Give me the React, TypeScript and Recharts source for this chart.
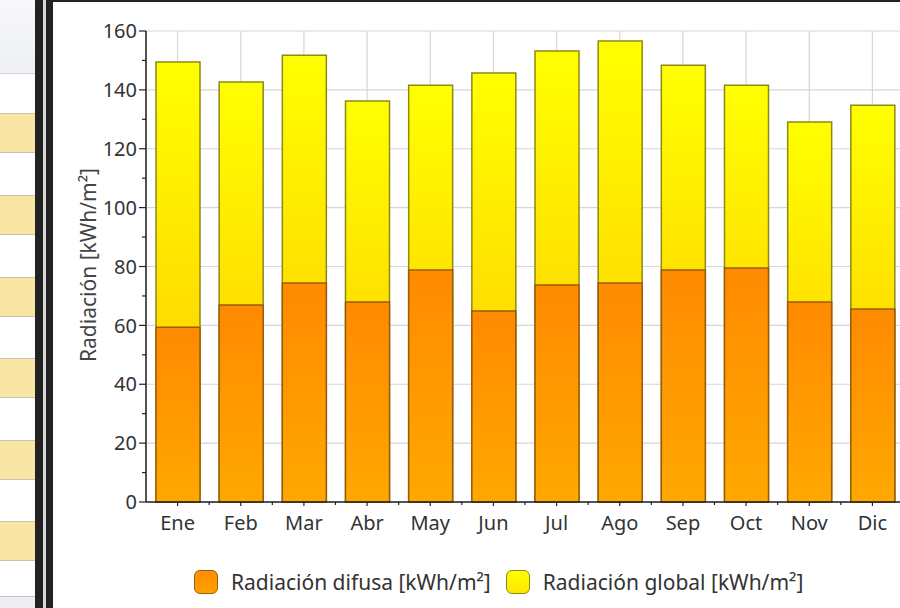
import React from 'react';
import { BarChart, Bar, XAxis, YAxis, CartesianGrid } from 'recharts';

const months = ['Ene', 'Feb', 'Mar', 'Abr', 'May', 'Jun', 'Jul', 'Ago', 'Sep', 'Oct', 'Nov', 'Dic'];
const radGlobal = [149.5, 142.7, 151.8, 136.2, 141.6, 145.7, 153.2, 156.6, 148.4, 141.6, 129.1, 134.8];
const radDifusa = [59.4, 66.9, 74.4, 67.9, 78.8, 64.9, 73.7, 74.4, 78.8, 79.5, 67.9, 65.6];
const yTicks = [0, 10, 20, 30, 40, 50, 60, 70, 80, 90, 100, 110, 120, 130, 140, 150, 160];
const yGridValues = [0, 20, 40, 60, 80, 100, 120, 140, 160];

const data = months.map((m, i) => ({ mes: m, global: radGlobal[i], difusa: radDifusa[i] }));

const FONT = '"Noto Sans", "Open Sans", sans-serif';
const TEXT = '#333';
const FS = 20;
const FS_LABEL = 21;

const YTick = (props: any) => {
  const { x, y, payload } = props;
  const major = payload.value % 20 === 0;
  const axisX = x + 9;
  return (
    <g>
      <line x1={axisX} x2={axisX - (major ? 7 : 4)} y1={y} y2={y} stroke="#222" strokeWidth={1.2} />
      {major && (
        <text x={x} y={y} dy="0.36em" textAnchor="end" fill={TEXT} fontSize={FS} fontFamily={FONT}>
          {payload.value}
        </text>
      )}
    </g>
  );
};

const XTick = (props: any) => {
  const { x, y, payload } = props;
  const axisY = y - 14;
  const half = payload.offset || 0;
  return (
    <g>
      <line x1={x} x2={x} y1={axisY} y2={axisY + 4} stroke="#222" strokeWidth={1.2} />
      <line x1={x + half} x2={x + half} y1={axisY} y2={axisY + 3} stroke="#222" strokeWidth={1.2} />
      <text x={x} y={y} dy="0.71em" textAnchor="middle" fill={TEXT} fontSize={FS} fontFamily={FONT}>
        {payload.value}
      </text>
    </g>
  );
};

const beigeRows = [113, 195, 277, 358, 440, 521];

function LeftPanel() {
  return (
    <>
      <div style={{ position: 'absolute', left: 0, top: 0, width: 35, height: 608, background: '#fff' }} />
      <div style={{ position: 'absolute', left: 0, top: 0, width: 35, height: 73, background: 'linear-gradient(#f8f8fa, #eef0f3)', borderBottom: '1px solid #cfd2d6' }} />
      {beigeRows.map((t) => (
        <div key={t} style={{ position: 'absolute', left: 0, top: t, width: 35, height: 38, background: '#fae6a4', borderTop: '1px solid #c9c3a8', borderBottom: '1px solid #c9c3a8' }} />
      ))}
      <div style={{ position: 'absolute', left: 0, top: 596, width: 35, height: 12, background: '#eceef1', borderTop: '1px solid #bfc3c8' }} />
      <div style={{ position: 'absolute', left: 35, top: 0, width: 8, height: 608, background: '#222' }} />
      <div style={{ position: 'absolute', left: 43, top: 0, width: 3, height: 608, background: '#d9d9d9' }} />
      <div style={{ position: 'absolute', left: 46, top: 0, width: 7, height: 608, background: '#222' }} />
      <div style={{ position: 'absolute', left: 53, top: 0, width: 847, height: 2, background: '#222' }} />
    </>
  );
}

function LegendItem({ label, fill, stroke }: { label: string; fill: string; stroke: string }) {
  return (
    <div style={{ display: 'flex', alignItems: 'center' }}>
      <div style={{ width: 22, height: 22, borderRadius: 6, background: fill, border: `1.5px solid ${stroke}`, marginRight: 13 }} />
      <span style={{ fontFamily: FONT, fontSize: FS_LABEL, color: TEXT, whiteSpace: 'nowrap' }}>
        {label}
      </span>
    </div>
  );
}

export default function App() {
  return (
    <div style={{ position: 'absolute', left: 0, top: 0, width: 900, height: 608, overflow: 'hidden', background: '#fff' }}>
      <LeftPanel />
      <div style={{ position: 'absolute', left: 0, top: 0 }}>
        <BarChart
          width={910}
          height={608}
          data={data}
          margin={{ top: 31, right: 6, left: 0, bottom: 66 }}
          barGap={-44}
          barSize={44}
        >
          <defs>
            <linearGradient id="gradGlobal" x1="0" y1="0" x2="0" y2="1">
              <stop offset="0%" stopColor="#ffff00" />
              <stop offset="100%" stopColor="#ffc400" />
            </linearGradient>
            <linearGradient id="gradDifusa" x1="0" y1="0" x2="0" y2="1">
              <stop offset="0%" stopColor="#ff8a00" />
              <stop offset="100%" stopColor="#ffa800" />
            </linearGradient>
          </defs>
          <CartesianGrid stroke="#d6d6d6" strokeWidth={1.2} horizontalValues={yGridValues} />
          <XAxis
            dataKey="mes"
            height={40}
            tickLine={false}
            tickSize={4}
            tickMargin={10}
            axisLine={{ stroke: '#222', strokeWidth: 1.5 }}
            tick={<XTick />}
            interval={0}
          />
          <YAxis
            width={146}
            domain={[0, 160]}
            ticks={yTicks}
            interval={0}
            tickLine={false}
            tickSize={6}
            tickMargin={3}
            axisLine={{ stroke: '#222', strokeWidth: 1.5 }}
            tick={<YTick />}
            label={{
              content: () => (
                <text
                  x={88}
                  y={265}
                  transform="rotate(-90 88 265)"
                  textAnchor="middle"
                  dominantBaseline="central"
                  fill="#444"
                  fontSize={FS_LABEL}
                  fontFamily={FONT}
                >
                  Radiación [kWh/m²]
                </text>
              ),
            }}
          />
          <Bar dataKey="global" fill="url(#gradGlobal)" stroke="#8c8a12" strokeWidth={1.5} isAnimationActive={false} />
          <Bar dataKey="difusa" fill="url(#gradDifusa)" stroke="#9a5c08" strokeWidth={1.5} isAnimationActive={false} />
        </BarChart>
      </div>
      <div style={{ position: 'absolute', left: 194, top: 568, display: 'flex', alignItems: 'center', gap: 15 }}>
        <LegendItem label="Radiación difusa [kWh/m²]" fill="linear-gradient(#ff9000, #ffa000)" stroke="#9a5c08" />
        <LegendItem label="Radiación global [kWh/m²]" fill="linear-gradient(#ffff00, #ffe600)" stroke="#8c8a12" />
      </div>
    </div>
  );
}
